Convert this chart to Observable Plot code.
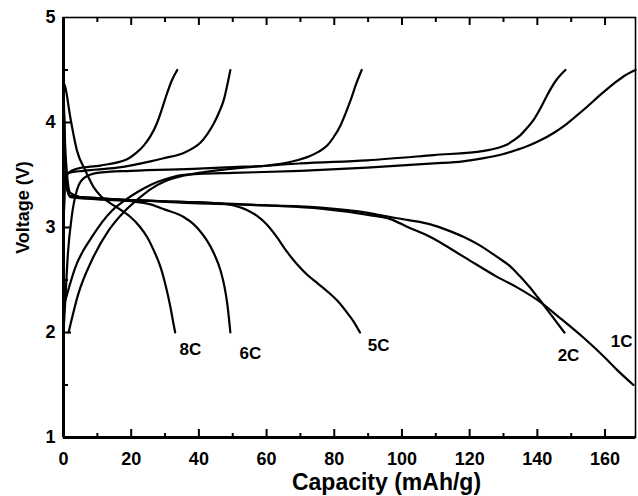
<!DOCTYPE html>
<html>
<head>
<meta charset="utf-8">
<script src="https://cdn.jsdelivr.net/npm/d3@7"></script>
<script src="https://cdn.jsdelivr.net/npm/@observablehq/plot@0.6"></script>
<style>
  html, body { margin: 0; padding: 0; background: #fff; }
  #chart { width: 638px; height: 496px; }
</style>
</head>
<body>
<div id="chart"></div>
<script>
// ---- tick values ----
const xTicks = [0, 20, 40, 60, 80, 100, 120, 140, 160];
const xMinorTicks = [10, 30, 50, 70, 90, 110, 130, 150];
const yTicks = [1, 2, 3, 4, 5];
const yInnerTicks = [2, 3, 4];
const yMinorTicks = [1.5, 2.5, 3.5, 4.5];

// ---- charge curves [capacity mAh/g, voltage V] ----
const charge8C = [[0,3.0],[0.5,3.45],[1.5,3.52],[4,3.56],[10.9,3.59],[18.8,3.65],[21.5,3.71],[23.7,3.78],[25.7,3.87],[27.7,4.0],[29,4.12],[30.3,4.25],[32,4.4],[33.6,4.5]];
const charge6C = [[0,3.0],[0.5,3.45],[1.5,3.52],[6,3.54],[15.9,3.57],[25.7,3.63],[29.6,3.66],[35.5,3.71],[38.5,3.76],[40.5,3.81],[42.5,3.89],[44.4,3.99],[46,4.1],[47.4,4.22],[48.4,4.36],[49.3,4.5]];
const charge5C = [[0,2.0],[0.6,2.35],[1.3,2.75],[2.5,3.12],[4,3.36],[6,3.47],[10,3.52],[20,3.54],[40,3.56],[50,3.575],[60.2,3.59],[65.1,3.61],[69,3.64],[72,3.67],[75.3,3.72],[77.9,3.78],[79.6,3.85],[81.8,3.97],[83.5,4.1],[84.8,4.21],[86.5,4.37],[88.1,4.5]];
const charge2C = [[1.5,2.0],[4.4,2.37],[8.4,2.69],[13.3,2.97],[18.2,3.16],[22,3.27],[26,3.37],[30,3.44],[35,3.49],[40,3.52],[50,3.56],[70,3.61],[89.7,3.64],[109.4,3.69],[124.2,3.73],[128.5,3.76],[131.1,3.79],[133,3.83],[135,3.88],[137,3.95],[139,4.03],[141,4.14],[142.9,4.26],[145.5,4.4],[148.3,4.5]];
const charge1C = [[0.5,2.3],[3.5,2.62],[8.4,2.91],[14.3,3.16],[18.2,3.26],[22,3.34],[26,3.41],[30,3.46],[35,3.5],[40,3.51],[50,3.52],[70,3.54],[89.7,3.57],[109.4,3.61],[118,3.63],[124.2,3.66],[130,3.7],[134,3.74],[137.5,3.78],[140.9,3.83],[144.8,3.9],[148.8,3.99],[151.8,4.07],[154.7,4.15],[158.5,4.26],[162.6,4.37],[166,4.45],[169,4.5]];

// ---- discharge curves [capacity mAh/g, voltage V] ----
const discharge8C = [[0,4.38],[0.5,4.34],[2,4.05],[4,3.73],[6.5,3.54],[9,3.38],[11,3.3],[13.9,3.23],[16.8,3.17],[19.8,3.1],[22.5,3.01],[24.7,2.91],[26.7,2.78],[28.7,2.62],[30.3,2.43],[31.6,2.24],[32.4,2.1],[33,2.0]];
const discharge6C = [[0,4.35],[0.3,3.95],[1,3.52],[2,3.33],[5,3.29],[10,3.27],[20,3.25],[25.7,3.22],[30,3.17],[35.5,3.1],[38.5,3.03],[40.5,2.96],[42.5,2.87],[44.5,2.75],[46.4,2.59],[47.6,2.43],[48.4,2.27],[48.9,2.13],[49.3,2.0]];
const discharge5C = [[0,4.35],[0.3,3.8],[1,3.4],[2,3.3],[10,3.28],[20,3.26],[30,3.25],[40,3.24],[46,3.23],[50.3,3.21],[54,3.17],[57.2,3.11],[60,3.03],[63,2.91],[66,2.77],[69,2.65],[72,2.55],[75,2.47],[78,2.39],[81,2.3],[84,2.18],[86,2.09],[87.6,2.0]];
const discharge2C = [[0,4.35],[0.3,3.7],[1,3.38],[2,3.29],[10,3.27],[20,3.26],[40,3.23],[60,3.21],[76,3.19],[90,3.14],[96.6,3.1],[102,3.07],[108.4,3.03],[113,2.98],[118.3,2.91],[123,2.83],[128.1,2.72],[132,2.63],[135,2.53],[137.5,2.44],[140,2.34],[144,2.17],[148,2.0]];
const discharge1C = [[0,4.35],[0.3,3.7],[1,3.38],[2,3.3],[10,3.28],[20,3.26],[40,3.24],[60,3.21],[76,3.18],[90,3.12],[96.6,3.08],[102,3.0],[108.4,2.91],[118.3,2.72],[128.1,2.53],[134,2.43],[140,2.31],[147,2.13],[154,1.94],[160,1.76],[164,1.63],[168.4,1.5]];

// ---- curve labels ----
const rateLabels = ["8C", "6C", "5C", "2C", "1C"];
const labelCap = [37.5, 55.2, 93.1, 149.2, 164.9];
const labelVolt = [1.84, 1.8, 1.88, 1.78, 1.91];

const xLabel = "Capacity (mAh/g)";
const yLabel = "Voltage (V)";

const curves = [charge8C, charge6C, charge5C, charge2C, charge1C,
                discharge8C, discharge6C, discharge5C, discharge2C, discharge1C];
const lineMarks = curves.map(c => Plot.line(c, {x: d => d[0], y: d => d[1], stroke: "black", strokeWidth: 2.2, curve: "monotone-x"}));
const labels = rateLabels.map((t, i) => ({t, x: labelCap[i], y: labelVolt[i]}));

const W = 638, H = 496, mL = 63, mR = 3, mT = 17, mB = 59;
const fw = W - mL - mR, fh = H - mT - mB;
const font = "Liberation Sans, Arial, Helvetica, sans-serif";

const chart = Plot.plot({
  width: W, height: H,
  marginLeft: mL, marginRight: mR, marginTop: mT, marginBottom: mB,
  x: {domain: [0, 169], axis: null},
  y: {domain: [1, 5], axis: null},
  style: {fontFamily: font, fontWeight: "bold", background: "white", color: "black"},
  marks: [
    ...lineMarks,
    // inward ticks, bottom
    Plot.ruleX(xTicks, {x: d => d, insetTop: fh - 8, strokeWidth: 2}),
    Plot.ruleX(xMinorTicks, {x: d => d, insetTop: fh - 4, strokeWidth: 2}),
    // inward ticks, top
    Plot.ruleX(xTicks, {x: d => d, insetBottom: fh - 8, strokeWidth: 2}),
    Plot.ruleX(xMinorTicks, {x: d => d, insetBottom: fh - 5, strokeWidth: 2}),
    // inward ticks, left
    Plot.ruleY(yInnerTicks, {y: d => d, insetRight: fw - 8, strokeWidth: 2}),
    Plot.ruleY(yMinorTicks, {y: d => d, insetRight: fw - 5, strokeWidth: 2}),
    Plot.frame({stroke: "black", strokeWidth: 1.6}),
    Plot.ruleX([0], {strokeWidth: 3}),
    Plot.ruleY([1], {strokeWidth: 3}),
    // tick labels
    Plot.text(xTicks, {x: d => d, frameAnchor: "bottom", lineAnchor: "top", dy: 15, text: d => String(d), fontSize: 18, fontWeight: "bold", fill: "black"}),
    Plot.text(yTicks, {y: d => d, frameAnchor: "left", textAnchor: "end", lineAnchor: "middle", dx: -8, text: d => String(d), fontSize: 18, fontWeight: "bold", fill: "black"}),
    Plot.text(labels, {x: "x", y: "y", text: "t", fontSize: 17, fontWeight: "bold", fill: "black"}),
    Plot.text([xLabel], {frameAnchor: "bottom", lineAnchor: "middle", dx: 37, dy: 45, fontSize: 23, fontWeight: "bold", fill: "black"}),
    Plot.text([yLabel], {frameAnchor: "left", textAnchor: "middle", lineAnchor: "middle", rotate: -90, dx: -40, dy: -20, fontSize: 18, fontWeight: "bold", fill: "black"})
  ]
});
document.getElementById("chart").appendChild(chart);
</script>
</body>
</html>
